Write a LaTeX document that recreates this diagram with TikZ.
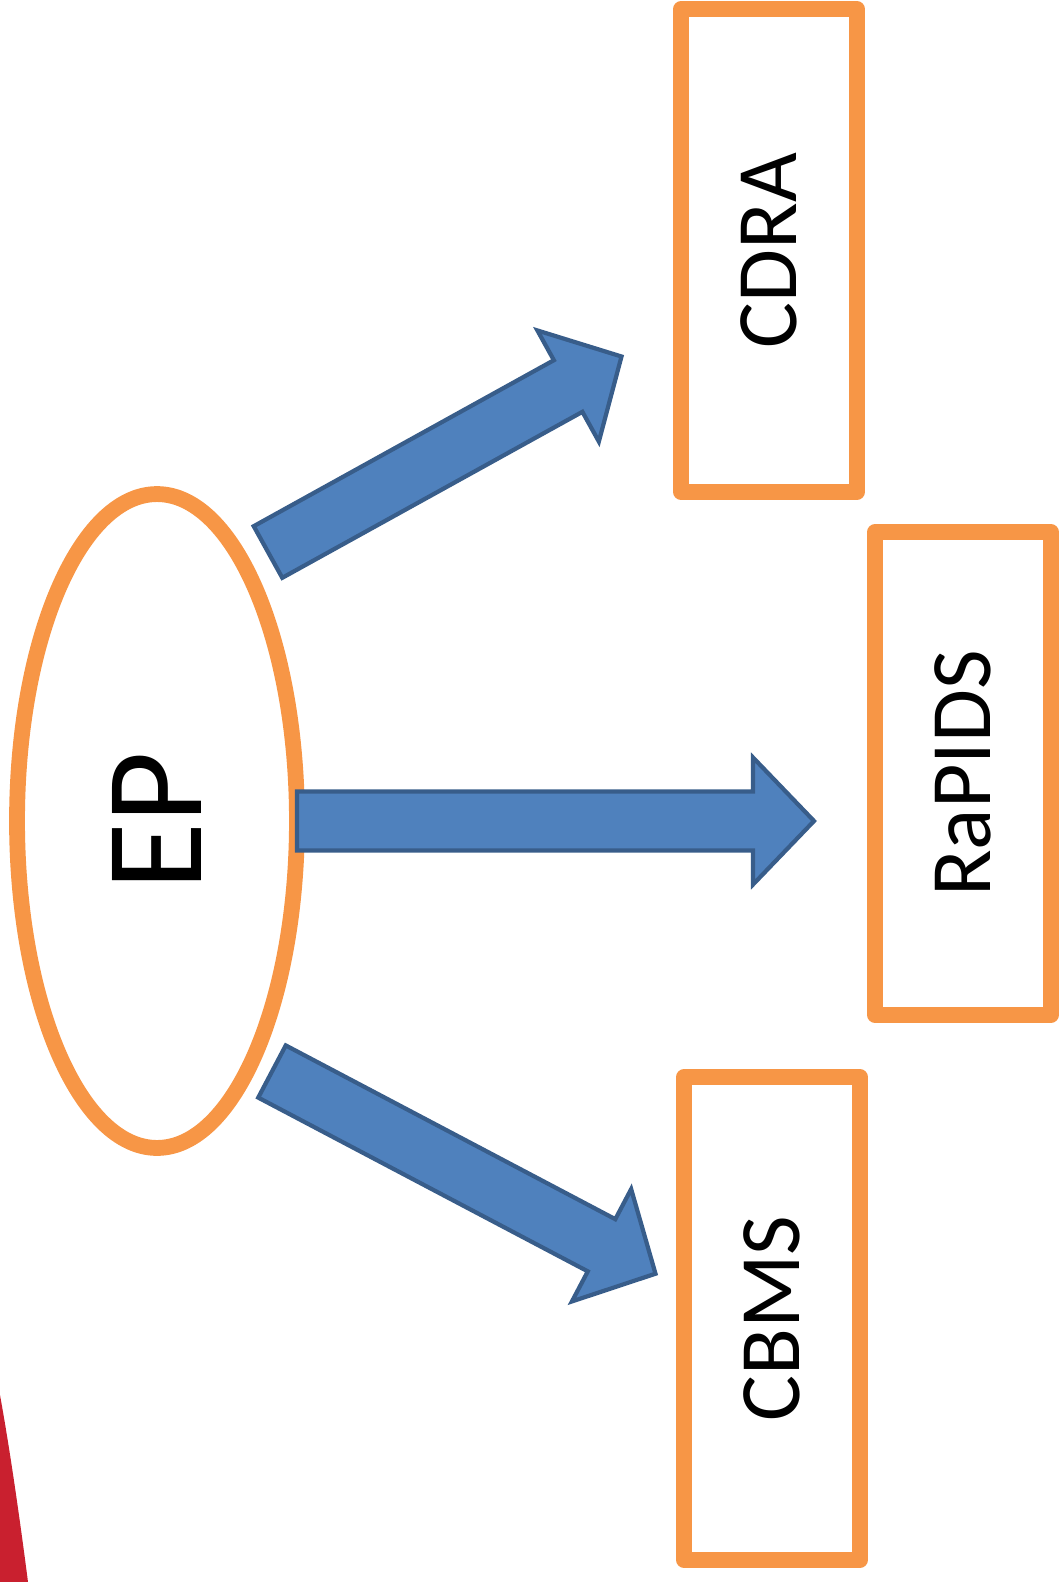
\documentclass[tikz,border=0pt]{standalone}
\usepackage{fontspec}
\setmainfont{Carlito}
\usepackage{xcolor}
\usepackage{tikz}
\usetikzlibrary{calc, shapes.geometric}

\definecolor{boxorange}{HTML}{F79646}
\definecolor{arrowfill}{HTML}{4F81BD}
\definecolor{arrowedge}{HTML}{385D8A}
\definecolor{cornerred}{HTML}{C9202F}

\begin{document}
\begin{tikzpicture}[
    x=0.02cm, y=-0.02cm,
    unit/.style={rectangle, draw=boxorange, line width=9pt, line join=round, rotate=90, inner sep=0pt, minimum width=9.66cm, minimum height=3.52cm, font=\fontsize{49}{59}\selectfont},
    core/.style={ellipse, draw=boxorange, line width=9pt, rotate=90, inner sep=0pt, minimum width=13.08cm, minimum height=5.6cm, font=\fontsize{79}{94}\selectfont},
    blockarrow/.style={draw=arrowedge, fill=arrowfill, line width=2.4pt,
      to path={($(\tikztostart)!0.59cm!90:(\tikztotarget)$)
        -- ($(\tikztotarget)!1.22cm!(\tikztostart)!0.59cm!90:(\tikztotarget)$)
        -- ($(\tikztotarget)!1.22cm!(\tikztostart)!1.27cm!90:(\tikztotarget)$)
        -- (\tikztotarget)
        -- ($(\tikztotarget)!1.22cm!(\tikztostart)!1.27cm!-90:(\tikztotarget)$)
        -- ($(\tikztotarget)!1.22cm!(\tikztostart)!0.59cm!-90:(\tikztotarget)$)
        -- ($(\tikztostart)!0.59cm!-90:(\tikztotarget)$) -- cycle}}
]
\useasboundingbox (0,0) rectangle (1060,1582);

% red edge of a shape cut by the frame
\fill[cornerred] (0,1395) .. controls (10,1450) and (20,1520) .. (28,1582) -- (0,1582) -- cycle;

\node[core] (ep) at (157,821) {EP};
\node[unit] (cdra) at (769,250.5) {CDRA};
\node[unit] (rapids) at (963,773.5) {RaPIDS};
\node[unit] (cbms) at (772,1318.5) {CBMS};

\coordinate (upfrom) at (268,552);
\coordinate (upto) at (621.5,356.5);
\coordinate (midfrom) at (297,821);
\coordinate (midto) at (814,821);
\coordinate (lowfrom) at (272,1071.5);
\coordinate (lowto) at (655.5,1273.7);

\draw[blockarrow] (upfrom) to (upto);
\draw[blockarrow] (midfrom) to (midto);
\draw[blockarrow] (lowfrom) to (lowto);
\end{tikzpicture}
\end{document}
